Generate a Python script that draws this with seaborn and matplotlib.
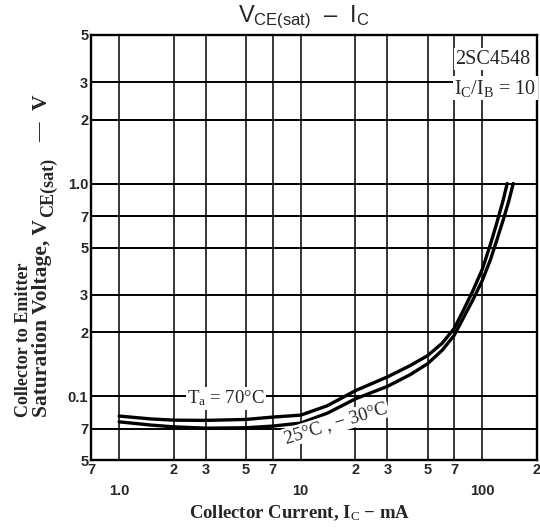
import numpy as np
import pandas as pd
import seaborn as sns
import matplotlib
matplotlib.use("Agg")
import matplotlib.pyplot as plt
from matplotlib.ticker import NullFormatter

# ---- data ----
ic_70 = [1.0, 1.5, 2, 3, 5, 7, 10, 14, 20, 30, 40, 50, 60, 70, 79, 89, 100,
         111, 120, 130, 137]
vce_70 = [0.0805, 0.078, 0.077, 0.0768, 0.0776, 0.0796, 0.0813, 0.09, 0.106,
          0.123, 0.139, 0.155, 0.177, 0.208, 0.255, 0.315, 0.395, 0.52, 0.65,
          0.83, 1.0]
ic_25 = [1.0, 1.5, 2, 3, 5, 7, 10, 14, 20, 30, 40, 50, 60, 70, 79, 89, 100,
         111, 120, 130, 140, 148]
vce_25 = [0.0756, 0.073, 0.0716, 0.0706, 0.0709, 0.0722, 0.0746, 0.083, 0.097,
          0.111, 0.126, 0.142, 0.164, 0.193, 0.235, 0.285, 0.35, 0.44, 0.54,
          0.67, 0.83, 1.0]

x_major = [1.0, 10, 100]
x_major_labels = ["1.0", "10", "100"]
x_minor = [0.7, 2, 3, 5, 7, 20, 30, 50, 70, 200]
x_minor_labels = ["7", "2", "3", "5", "7", "2", "3", "5", "7", "2"]
y_ticks = [0.05, 0.07, 0.1, 0.2, 0.3, 0.5, 0.7, 1.0, 2, 3, 5]
y_labels = ["5", "7", "0.1", "2", "3", "5", "7", "1.0", "2", "3", "5"]

df = pd.concat([
    pd.DataFrame({"Ic": ic_70, "V": vce_70, "T": "70"}),
    pd.DataFrame({"Ic": ic_25, "V": vce_25, "T": "25"}),
])

sns.set_style("white")
plt.rcParams["font.family"] = ["Liberation Sans", "DejaVu Sans"]
plt.rcParams["mathtext.fontset"] = "custom"
plt.rcParams["mathtext.rm"] = "Liberation Serif"
plt.rcParams["mathtext.sf"] = "Liberation Sans"
plt.rcParams["mathtext.bf"] = "Liberation Serif:bold"
plt.rcParams["mathtext.it"] = "Liberation Serif:italic"

fig = plt.figure(figsize=(5.4, 5.28), dpi=100)
ax = fig.add_axes([91 / 540, 1 - 460 / 528, (537 - 91) / 540, (460 - 35) / 528])

ax.set_xscale("log")
ax.set_yscale("log")
ax.set_xlim(0.7, 200)
ax.set_ylim(0.05, 5)

sns.lineplot(data=df, x="Ic", y="V", hue="T", palette=["black", "black"],
             linewidth=2.4, legend=False, ax=ax, sort=False, estimator=None)

ax.set_xticks(x_major, x_major_labels)
ax.set_xticks(x_minor, x_minor_labels, minor=True)
ax.set_yticks(y_ticks, y_labels)
ax.set_yticks([], minor=True)
ax.yaxis.set_minor_formatter(NullFormatter())

for lab in ax.get_xticklabels(which="both") + ax.get_yticklabels():
    lab.set_fontweight("bold")
    lab.set_fontsize(10.5)
ax.tick_params(axis="x", which="major", length=0, pad=17)
ax.tick_params(axis="x", which="minor", length=0, pad=2)
ax.tick_params(axis="y", which="major", length=0, pad=2)

ax.grid(True, which="both", axis="x", color="black", linewidth=1.1)
ax.grid(True, which="major", axis="y", color="black", linewidth=1.4)
for s in ax.spines.values():
    s.set_color("black")
    s.set_linewidth(1.7)

ax.set_xlabel("")
ax.set_ylabel("")

serif = ["Liberation Serif", "DejaVu Serif"]
white = dict(facecolor="white", edgecolor="none", pad=1.0)

ax.text(3.87, 0.0975, r"T$_\mathrm{a}$ = 70°C", family=serif, fontsize=13.5,
        ha="center", va="center", bbox=white, zorder=5)
ax.text(15.6, 0.0746, "25°C , − 30°C", family=serif, fontsize=13.5,
        ha="center", va="center", rotation=17, rotation_mode="anchor",
        bbox=white, zorder=5)
ax.text(0.985, 0.965, "2SC4548", transform=ax.transAxes, family=serif,
        fontsize=14.5, ha="right", va="top", bbox=white, zorder=5)
ax.text(0.998, 0.875, r"I$_\mathrm{C}$/I$_\mathrm{B}$ = 10", transform=ax.transAxes,
        family=serif, fontsize=14.5, ha="right", va="center", bbox=white, zorder=5)

fig.text(304 / 540, 1 - 17 / 528, r"V$_{\mathsf{CE(sat)}}$  –  I$_{\mathsf{C}}$",
         fontsize=17, ha="center", va="center")
fig.text(300 / 540, 1 - 513 / 528, r"Collector Current, I$_\mathrm{C}$ − mA",
         family=serif, fontsize=13.5, fontweight="bold", ha="center", va="center")

# y-axis label, two rotated lines; second line built piece by piece
W, H = 540, 528
rot = dict(family=serif, fontweight="bold", rotation=90, rotation_mode="anchor",
           ha="left", va="baseline")
fig.text(28 / W, 1 - 417 / H, "Collector to Emitter", fontsize=13, **rot)
pieces = [("Saturation Voltage, V", 15.5, 47, 0),
          ("CE(sat)", 13, 53, 2),
          ("—", 14, 45, 16),
          ("V", 15.5, 47, 12)]
renderer = fig.canvas.get_renderer()
ypos = H - 417  # display pixels from bottom
for txt, fs, xp, gap in pieces:
    ypos += gap
    t = fig.text(xp / W, ypos / H, txt, fontsize=fs, **rot)
    bb = t.get_window_extent(renderer=renderer)
    ypos = bb.y1

fig.savefig("out.png", dpi=100)
